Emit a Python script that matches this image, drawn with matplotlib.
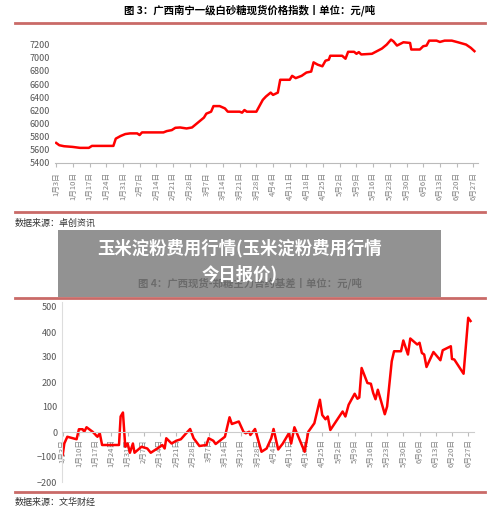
import matplotlib
matplotlib.use("Agg")
import matplotlib.pyplot as plt
from matplotlib.patches import Rectangle
from matplotlib.lines import Line2D

plt.rcParams['font.family'] = ['Noto Sans CJK SC', 'DejaVu Sans']

tick_labels = ["1月3日","1月10日","1月17日","1月24日","1月31日","2月7日","2月14日","2月21日","2月28日",
               "3月7日","3月14日","3月21日","3月28日","4月4日","4月11日","4月18日","4月25日","5月2日",
               "5月9日","5月16日","5月23日","5月30日","6月6日","6月13日","6月20日","6月27日"]
tick_days = [7*i for i in range(len(tick_labels))]

sugar_days = [0,1.3,3.3,6.8,10,13.7,15,24,25,27,29,31,34,35,36,45,46.4,48.5,50,52,54.7,57,59,62,63,65,66,68.6,70.8,72,77,78,79,80,84,86.7,88,90,91,93,94,98,99,100.5,103,105,107,108,109.7,111.7,113,114.4,115,120,121.4,122.5,125,126,127,128,132.5,134.6,136.7,138.7,140.5,141.5,143,145.7,148.5,149,152.6,154,155.4,156.5,159.6,161,163,166,168.6,172,174,175.5]
sugar_vals = [5705,5670,5655,5645,5630,5630,5660,5660,5770,5810,5840,5850,5850,5825,5865,5865,5885,5900,5935,5940,5925,5940,6000,6090,6150,6180,6265,6265,6230,6180,6180,6165,6205,6180,6180,6360,6410,6470,6435,6470,6665,6665,6725,6690,6725,6775,6790,6930,6895,6870,6955,6970,7030,7030,6985,7090,7090,7060,7085,7050,7060,7100,7140,7200,7275,7250,7185,7235,7225,7125,7125,7175,7185,7260,7260,7240,7260,7260,7235,7200,7150,7100]

basis_days = [0,0.7,2,6,7,8.6,9.3,10.3,12.9,15,16,17,24.3,25,26,27,28,29,30.3,31,34,36.5,38,41.5,43,44,44.7,47,49,51,53,55,56.5,59,62,63,65,66,70,72,73,76,78,79,80.5,81,83,85.8,88,90,91,93,95,97.6,98.6,100,104.4,106,108.6,111,112,113.4,114.4,115.5,120.8,122,123.4,126,127.2,128,129,131.5,133,134,135,136,139,140,142,143,146,147,149,150,153,154,155,156,157,160,163,164,167.5,168,169,173,175,176]
basis_vals = [-92,-46,-19,-29,11,11,1,19,1,-19,-5,-52,-52,62,78,-59,-46,-83,-46,-83,-59,-66,-83,-62,-52,-66,-25,-46,-35,-29,-8,12,-25,-56,-52,-25,-35,-48,-19,59,32,42,1,-5,1,-12,12,-79,-66,-25,12,-70,-46,-5,-46,19,-79,1,35,129,68,51,62,8,82,62,109,153,133,138,256,196,193,156,131,169,71,102,283,323,323,366,310,374,350,357,316,310,260,320,287,327,343,292,290,233,457,444]

fig = plt.figure(figsize=(5.0, 5.27), dpi=100)
W, H = 500, 527
def fy(y): return 1 - y / H
def fx(x): return x / W

red_sep = '#c0504d'
for y in [23, 212, 298, 492]:
    fig.add_artist(Line2D([fx(15), fx(485)], [fy(y), fy(y)], color=red_sep, lw=2, alpha=0.85))

fig.text(0.5, fy(10), "图 3：广西南宁一级白砂糖现货价格指数丨单位：元/吨", ha='center', va='center', fontsize=7.5, weight='bold')
fig.text(fx(15), fy(223), "数据来源：卓创资讯", ha='left', va='center', fontsize=6.5, color='#333')
fig.text(0.5, fy(283), "图 4：广西现货-郑糖主力合约基差丨单位：元/吨", ha='center', va='center', fontsize=7.5, weight='bold')
fig.text(fx(15), fy(502), "数据来源：文华财经", ha='left', va='center', fontsize=6.5, color='#333')

gray = '#808080'
# top chart
ax1 = fig.add_axes([fx(55), fy(163), fx(478) - fx(55), fy(38) - fy(163)])
ax1.plot(sugar_days, sugar_vals, color='#ff0000', lw=1.8)
ax1.set_ylim(5400, 7300)
ax1.set_yticks(range(5400, 7201, 200))
ax1.set_xlim(-0.5, 177)
ax1.set_xticks(tick_days)
ax1.set_xticklabels(tick_labels, rotation=90, fontsize=5.5, color=gray)
ax1.tick_params(axis='y', labelsize=6.5, colors='#555', length=0)
ax1.tick_params(axis='x', length=3, color='#bbb')
for s in ['top', 'right', 'left']:
    ax1.spines[s].set_visible(False)
ax1.spines['bottom'].set_color('#bbb')

# bottom chart
ax2 = fig.add_axes([fx(62), fy(482), fx(474) - fx(62), fy(302) - fy(482)])
ax2.spines['bottom'].set_position(('data', 0))
ax2.plot(basis_days, basis_vals, color='#ff0000', lw=1.8)
ax2.set_ylim(-200, 520)
ax2.set_yticks(range(-200, 501, 100))
ax2.set_xlim(-0.3, 177.5)
ax2.set_xticks(tick_days)
ax2.set_xticklabels(tick_labels, rotation=90, fontsize=5.5, color=gray)
ax2.tick_params(axis='y', labelsize=6.5, colors='#555', length=0)
ax2.tick_params(axis='x', length=3, color='#bbb', pad=2)
for s in ['top', 'right']:
    ax2.spines[s].set_visible(False)
ax2.spines['bottom'].set_color('#ccc')
ax2.spines['left'].set_color('#ddd')

# overlay banner
fig.add_artist(Rectangle((fx(58), fy(297)), fx(441) - fx(58), (297 - 230) / H,
                         transform=fig.transFigure, facecolor='#7f7f7f', alpha=0.85, edgecolor='none', zorder=10))
fig.text(fx(240), fy(248), "玉米淀粉费用行情(玉米淀粉费用行情", ha='center', va='center', fontsize=12.5,
         weight='bold', color='white', zorder=11)
fig.text(fx(240), fy(274), "今日报价)", ha='center', va='center', fontsize=12.5,
         weight='bold', color='white', zorder=11)

fig.savefig("out.png", dpi=100, facecolor='white')
